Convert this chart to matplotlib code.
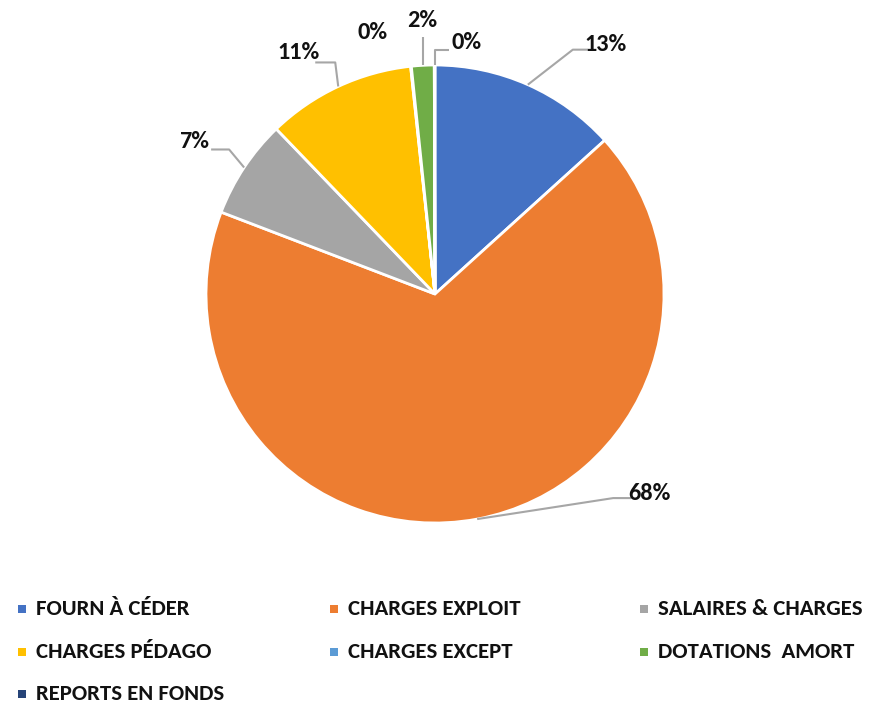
import numpy as np
import matplotlib.pyplot as plt
from matplotlib.patches import Rectangle

plt.rcParams['font.family'] = ['Carlito', 'DejaVu Sans']

categories = ["FOURN À CÉDER", "CHARGES EXPLOIT", "SALAIRES & CHARGES", "CHARGES PÉDAGO",
              "CHARGES EXCEPT", "DOTATIONS  AMORT", "REPORTS EN FONDS"]
values = [13.3, 67.6, 7.0, 10.5, 0.05, 1.6, 0.05]
labels = ["13%", "68%", "7%", "11%", "0%", "2%", "0%"]
colors = ["#4472C4", "#ED7D31", "#A5A5A5", "#FFC000", "#5B9BD5", "#70AD47", "#264478"]

# label offsets (pixels): elbow point and text position relative to wedge edge point
elbows = [(45, -35), (136, -21), (-15, -18), (-3, -24), None, (0, -28), (0, -15)]
text_pos = [(78, -40), (172, -26), (-50, -26), (-40, -34), (-38, -34), (-1, -45), (32, -23)]

fig = plt.figure(figsize=(8.7, 7.05), dpi=100)
ax = fig.add_axes([0, 0, 1, 1])

cx, cy, r = 435, 705 - 294, 229
wedges, _ = ax.pie(values, colors=colors, startangle=90, counterclock=False,
                   center=(cx, cy), radius=r, frame=True,
                   wedgeprops=dict(edgecolor='white', linewidth=2))
ax.set_xlim(0, 870)
ax.set_ylim(0, 705)
ax.set_aspect('equal')
ax.axis('off')

for w, lab, el, tp in zip(wedges, labels, elbows, text_pos):
    ang = np.deg2rad((w.theta1 + w.theta2) / 2)
    px = cx + r * np.cos(ang)
    py = cy + r * np.sin(ang)
    if el is not None:
        xs = [px, px + el[0]]
        ys = [py, py - el[1]]
        if tp[0] > el[0] + 5:
            xs.append(px + tp[0] - 18)
            ys.append(py - el[1])
        elif tp[0] < el[0] - 5:
            xs.append(px + tp[0] + 17)
            ys.append(py - el[1])
        ax.plot(xs, ys, color='#A6A6A6', lw=1.5, solid_capstyle='butt')
    ax.text(px + tp[0], py - tp[1], lab, ha='center', va='center',
            fontsize=17.5, fontweight='bold', color='#111111')

# legend, filled row by row
col_x = [18, 330, 640]
row_y = [609, 652, 694]
for i, (cat, c) in enumerate(zip(categories, colors)):
    x = col_x[i % 3]
    y = 705 - row_y[i // 3]
    ax.add_patch(Rectangle((x, y - 4), 8, 8, facecolor=c, edgecolor='none'))
    ax.text(x + 18, y, cat, ha='left', va='center', fontsize=16.4,
            fontweight='bold', color='#111111')

fig.savefig("out.png", dpi=100)
